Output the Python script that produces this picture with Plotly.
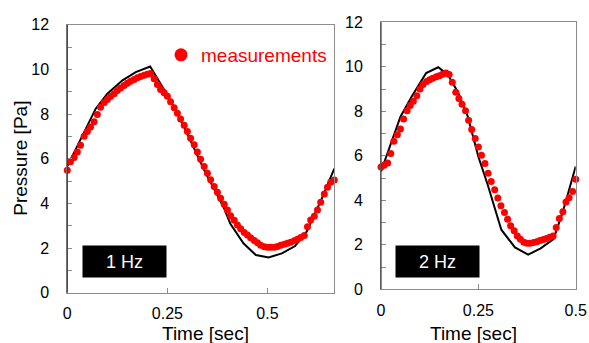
import plotly.graph_objects as go

W, H = 589, 343

# ---------------- data ----------------
# 1 Hz panel: measurements (red dots)
t1 = [0.000, 0.008, 0.017, 0.025, 0.033, 0.042, 0.050, 0.058, 0.067, 0.075,
      0.083, 0.092, 0.100, 0.108, 0.117, 0.125, 0.133, 0.142, 0.150, 0.158,
      0.167, 0.175, 0.183, 0.192, 0.200, 0.208, 0.217, 0.225, 0.233, 0.242,
      0.250, 0.258, 0.267, 0.275, 0.283, 0.292, 0.300, 0.308, 0.317, 0.325,
      0.333, 0.342, 0.350, 0.358, 0.367, 0.375, 0.383, 0.392, 0.400, 0.408,
      0.417, 0.425, 0.433, 0.442, 0.450, 0.458, 0.467, 0.475, 0.483, 0.492,
      0.500, 0.508, 0.517, 0.525, 0.533, 0.542, 0.550, 0.558, 0.567, 0.575,
      0.583, 0.592, 0.600, 0.608, 0.617, 0.625, 0.633, 0.642, 0.650, 0.658,
      0.667]
p1 = [5.48, 5.86, 6.05, 6.30, 6.60, 7.00, 7.22, 7.42, 7.65, 7.98,
      8.30, 8.52, 8.65, 8.78, 8.91, 9.05, 9.17, 9.28, 9.38, 9.47,
      9.55, 9.62, 9.68, 9.74, 9.78, 9.82, 9.58, 9.32, 9.10, 8.95,
      8.80, 8.55, 8.28, 8.03, 7.78, 7.50, 7.22, 6.92, 6.62, 6.30,
      5.98, 5.65, 5.35, 5.06, 4.76, 4.50, 4.23, 3.96, 3.70, 3.45,
      3.24, 3.03, 2.86, 2.70, 2.58, 2.46, 2.34, 2.24, 2.12, 2.06,
      2.03, 2.03, 2.04, 2.07, 2.12, 2.17, 2.21, 2.26, 2.33, 2.39,
      2.47, 2.56, 2.95, 3.25, 3.42, 3.70, 4.05, 4.42, 4.72, 4.95,
      5.05]
# 1 Hz panel: model (black line)
t1_line = [0.000, 0.071, 0.100, 0.138, 0.171, 0.207, 0.258, 0.292, 0.342,
           0.390, 0.407, 0.440, 0.471, 0.503, 0.536, 0.569, 0.598, 0.636, 0.667]
p1_line = [5.66, 8.24, 8.91, 9.51, 9.88, 10.13, 8.61, 7.42, 5.49,
           3.85, 3.10, 2.21, 1.69, 1.58, 1.76, 2.09, 2.73, 4.22, 5.56]

# 2 Hz panel: measurements (red dots)
t2 = [0.000, 0.008, 0.017, 0.025, 0.033, 0.042, 0.050, 0.058, 0.067, 0.075,
      0.083, 0.092, 0.100, 0.108, 0.117, 0.125, 0.133, 0.142, 0.150, 0.158,
      0.167, 0.175, 0.183, 0.192, 0.200, 0.208, 0.217, 0.225, 0.233, 0.242,
      0.250, 0.258, 0.267, 0.275, 0.283, 0.292, 0.300, 0.308, 0.317, 0.325,
      0.333, 0.342, 0.350, 0.358, 0.367, 0.375, 0.383, 0.392, 0.400, 0.408,
      0.417, 0.425, 0.433, 0.442, 0.450, 0.458, 0.467, 0.475, 0.483, 0.492,
      0.500]
p2 = [5.50, 5.58, 5.68, 6.10, 6.65, 6.95, 7.20, 7.65, 8.03, 8.26,
      8.45, 8.70, 9.00, 9.20, 9.34, 9.42, 9.49, 9.55, 9.60, 9.66,
      9.72, 9.65, 9.30, 8.86, 8.58, 8.32, 8.02, 7.60, 7.18, 6.78,
      6.40, 6.03, 5.65, 5.22, 4.85, 4.47, 4.10, 3.76, 3.45, 3.15,
      2.86, 2.63, 2.40, 2.25, 2.12, 2.07, 2.07, 2.10, 2.14, 2.19,
      2.24, 2.28, 2.34, 2.40, 2.78, 3.18, 3.48, 3.92, 4.12, 4.40,
      4.95]
# 2 Hz panel: model (black line)
t2_line = [0.000, 0.050, 0.080, 0.116, 0.147, 0.172, 0.197, 0.223, 0.250,
           0.274, 0.309, 0.344, 0.378, 0.410, 0.443, 0.467, 0.500]
p2_line = [5.30, 7.76, 8.70, 9.72, 9.98, 9.63, 8.88, 7.76, 5.96,
           4.70, 2.68, 1.88, 1.56, 1.84, 2.26, 3.49, 5.52]

y_ticks = [0, 2, 4, 6, 8, 10, 12]
x_ticks = [0, 0.25, 0.5]
x_ticktext = ["0", "0.25", "0.5"]
panel_labels = ["1 Hz", "2 Hz"]
legend_label = "measurements"
x_title = "Time [sec]"
y_title = "Pressure [Pa]"

# ---------------- figure ----------------
FONT = "Liberation Sans, Arial, sans-serif"
RED = "#ff0000"

def px_x(p):
    return p / W

def px_y(p):
    return 1 - p / H

fig = go.Figure()

fig.add_trace(go.Scatter(x=t1_line, y=p1_line, mode="lines",
                         line=dict(color="black", width=2),
                         xaxis="x", yaxis="y", showlegend=False, cliponaxis=True))
fig.add_trace(go.Scatter(x=t1, y=p1, mode="markers",
                         marker=dict(color=RED, size=7),
                         xaxis="x", yaxis="y", showlegend=False, cliponaxis=False))
fig.add_trace(go.Scatter(x=t2_line, y=p2_line, mode="lines",
                         line=dict(color="black", width=2),
                         xaxis="x2", yaxis="y2", showlegend=False, cliponaxis=True))
fig.add_trace(go.Scatter(x=t2, y=p2, mode="markers",
                         marker=dict(color=RED, size=7),
                         xaxis="x2", yaxis="y2", showlegend=False, cliponaxis=False))
# legend entry (larger symbol as in the original legend)
fig.add_trace(go.Scatter(x=[None], y=[None], mode="markers", name=legend_label,
                         marker=dict(color=RED, size=13),
                         xaxis="x", yaxis="y", showlegend=True))

# panel pixel geometry
L1, R1, T1, B1 = 67.3, 334.3, 24.7, 292.7
L2, R2, T2, B2 = 381.0, 575.7, 22.3, 289.3

common_x = dict(showgrid=False, zeroline=False, showline=True, linecolor="#8c8c8c",
                linewidth=1, mirror=True, ticks="inside", ticklen=5, tickcolor="#8c8c8c",
                tickvals=x_ticks, ticktext=x_ticktext, automargin=False,
                tickfont=dict(family=FONT, size=16, color="black"), ticklabelstandoff=6)
common_y = dict(showgrid=False, zeroline=False, showline=True, linecolor="#8c8c8c",
                linewidth=1, mirror=True, ticks="inside", ticklen=5, tickcolor="#8c8c8c",
                range=[0, 12], tickvals=y_ticks, automargin=False,
                minor=dict(dtick=1, ticks="inside", ticklen=5, tickcolor="#8c8c8c"),
                tickfont=dict(family=FONT, size=16, color="black"), ticklabelstandoff=14)

fig.update_layout(
    width=W, height=H,
    margin=dict(l=0, r=0, t=0, b=0, pad=0, autoexpand=False),
    paper_bgcolor="white", plot_bgcolor="white",
    xaxis=dict(domain=[px_x(L1), px_x(R1)], range=[0, 0.667], anchor="y", **common_x),
    yaxis=dict(domain=[px_y(B1), px_y(T1)], anchor="x", **common_y),
    xaxis2=dict(domain=[px_x(L2), px_x(R2)], range=[0, 0.5], anchor="y2", **common_x),
    yaxis2=dict(domain=[px_y(B2), px_y(T2)], anchor="x2", **common_y),
    legend=dict(x=px_x(161), y=px_y(36), xanchor="left", yanchor="top",
                bgcolor="rgba(0,0,0,0)", borderwidth=0,
                font=dict(family=FONT, size=19, color=RED),
                itemsizing="trace"),
    font=dict(family=FONT),
)

# darker left axis lines (as in the original)
for L, T, B in [(L1, T1, B1), (L2, T2, B2)]:
    fig.add_shape(type="line", xref="paper", yref="paper",
                  x0=px_x(L), x1=px_x(L), y0=px_y(B), y1=px_y(T),
                  line=dict(color="#3c3c3c", width=1.2))

# axis titles
fig.add_annotation(text=y_title, xref="paper", yref="paper",
                   x=px_x(21), y=px_y((T1 + B1) / 2), textangle=-90,
                   showarrow=False, xanchor="center", yanchor="middle",
                   font=dict(family=FONT, size=19, color="black"))
for cx in [(L1 + R1) / 2 + 5, (L2 + R2) / 2 - 5]:
    fig.add_annotation(text=x_title, xref="paper", yref="paper",
                       x=px_x(cx), y=px_y(333), showarrow=False,
                       xanchor="center", yanchor="middle",
                       font=dict(family=FONT, size=19, color="black"))

# panel labels in black boxes
for (cx, cy), lab in zip([(124.5, 261.5), (437.5, 261.0)], panel_labels):
    fig.add_annotation(text=lab, xref="paper", yref="paper",
                       x=px_x(cx), y=px_y(cy), showarrow=False,
                       xanchor="center", yanchor="middle",
                       width=79, height=27, bgcolor="black", borderpad=2,
                       font=dict(family=FONT, size=18, color="white"))

fig.write_html("out.html",
               config={"displayModeBar": False},
               post_script="document.body.style.margin='0';document.body.style.overflow='hidden';")
